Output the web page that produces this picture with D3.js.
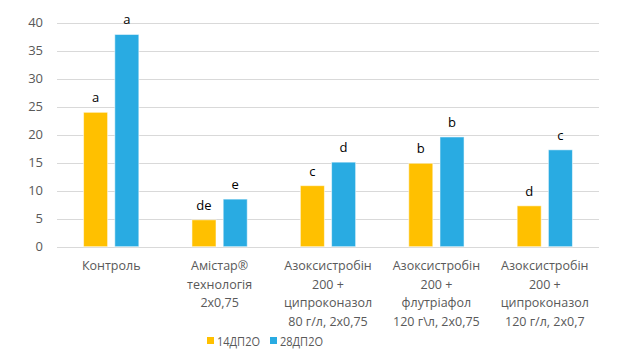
<!DOCTYPE html>
<html><head><meta charset="utf-8">
<script src="https://cdn.jsdelivr.net/npm/d3@7"></script>
<style>body{margin:0;background:#fff}svg{display:block;font-family:"Open Sans",sans-serif}</style>
</head><body><svg id="c" width="629" height="355"></svg>
<script>
const categories = ["Контроль", "Амістар®\nтехнологія\n2х0,75", "Азоксистробін\n200 +\nципроконазол\n80 г/л, 2х0,75", "Азоксистробін\n200 +\nфлутріафол\n120 г\\л, 2х0,75", "Азоксистробін\n200 +\nципроконазол\n120 г/л, 2х0,7"];
const seriesNames = ["14ДП2О", "28ДП2О"];
const values14 = [24.0, 4.8, 10.9, 14.9, 7.3];
const values28 = [37.9, 8.5, 15.1, 19.6, 17.3];
const letters14 = ["a", "de", "c", "b", "d"];
const letters28 = ["a", "e", "d", "b", "c"];
const yTicks = [0, 5, 10, 15, 20, 25, 30, 35, 40];
const colors = ["#FFC000", "#29ABE2"];

const svg = d3.select("#c");
const pL = 57, pR = 599, pT = 22.7, pB = 246.7;
const y = d3.scaleLinear().domain([0, 40]).range([pB, pT]);
const x0 = d3.scaleBand().domain(categories).range([pL, pR]).paddingInner(0.49).paddingOuter(0.245);
const x1 = d3.scaleBand().domain(seriesNames).range([0, x0.bandwidth()]).paddingInner(0.23);

// gridlines
svg.append("g").selectAll("line").data(yTicks).join("line")
  .attr("x1", pL).attr("x2", pR)
  .attr("y1", d => Math.round(y(d)) + 0.5).attr("y2", d => Math.round(y(d)) + 0.5)
  .attr("stroke", "#D9D9D9").attr("stroke-width", 1);

// y tick labels
svg.append("g").selectAll("text").data(yTicks).join("text")
  .attr("x", 43).attr("y", d => y(d)).attr("dy", "0.35em")
  .attr("text-anchor", "end").attr("font-size", 13).attr("fill", "#595959")
  .text(d => d);

const rows = categories.map((c, i) => ({c, vals: [values14[i], values28[i]], lets: [letters14[i], letters28[i]]}));
const g = svg.append("g").selectAll("g").data(rows).join("g")
  .attr("transform", d => `translate(${x0(d.c)},0)`);
g.selectAll("rect").data(d => d.vals.map((v, k) => ({v, k}))).join("rect")
  .attr("x", d => x1(seriesNames[d.k])).attr("width", x1.bandwidth())
  .attr("y", d => y(d.v)).attr("height", d => y(0) - y(d.v))
  .attr("fill", d => colors[d.k]).attr("stroke", "#ffffff").attr("stroke-opacity", 0.55).attr("stroke-width", 1);
g.selectAll("text").data(d => d.vals.map((v, k) => ({v, k, l: d.lets[k]}))).join("text")
  .attr("x", d => x1(seriesNames[d.k]) + x1.bandwidth() / 2)
  .attr("y", d => y(d.v) - 10)
  .attr("text-anchor", "middle").attr("font-size", 13).attr("fill", "#000")
  .text(d => d.l);

// category labels
const cl = svg.append("g").selectAll("text").data(categories).join("text")
  .attr("text-anchor", "middle").attr("font-size", 12.5).attr("fill", "#595959")
  .attr("transform", d => `translate(${x0(d) + x0.bandwidth() / 2},270)`);
cl.selectAll("tspan").data(d => d.split("\n")).join("tspan")
  .attr("x", 0).attr("y", (d, i) => i * 18.5).text(d => d);

// legend
const leg = svg.append("g").attr("transform", "translate(207,337)");
const items = leg.selectAll("g").data(seriesNames).join("g")
  .attr("transform", (d, i) => `translate(${i * 63},0)`);
items.append("rect").attr("width", 7).attr("height", 7).attr("fill", (d, i) => colors[i]);
items.append("text").attr("x", 10).attr("y", 8.5).attr("font-size", 12).attr("fill", "#595959")
  .attr("textLength", 43).attr("lengthAdjust", "spacingAndGlyphs").text(d => d);
</script></body></html>
